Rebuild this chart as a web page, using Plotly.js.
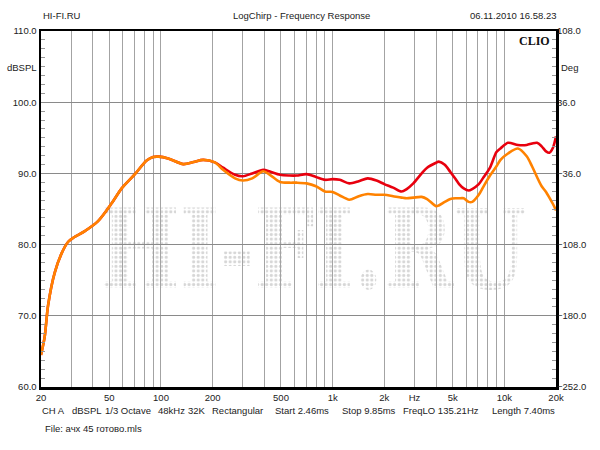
<!DOCTYPE html>
<html>
<head>
<meta charset="utf-8">
<script src="https://cdn.plot.ly/plotly-3.0.1.min.js"></script>
<style>html,body{margin:0;padding:0;background:#fff;}#chart{width:600px;height:450px;}</style>
</head>
<body>
<div id="chart"></div>
<script>
// Frequencies (Hz)
const freq = [20, 21, 22, 24, 26.4, 28.8, 31, 36, 43, 51.6, 59, 70.5, 82.5, 90, 97, 110, 135, 155, 176, 206, 230, 270, 300, 340, 394, 431, 494, 560, 617, 705, 800, 902, 1000, 1100, 1250, 1420, 1600, 1800, 2000, 2250, 2520, 2700, 2950, 3300, 3550, 4000, 4150, 4500, 4850, 5200, 5450, 5800, 6200, 6500, 7100, 7500, 8250, 9000, 9500, 10500, 12000, 13500, 14500, 15500, 16500, 17500, 18300, 19200, 20000];
// Red curve (dBSPL)
const redSPL = [64.5, 67, 71.5, 76, 78.8, 80.4, 81, 81.9, 83.3, 85.8, 87.9, 89.9, 91.8, 92.3, 92.35, 92.1, 91.3, 91.6, 91.9, 91.55, 90.8, 89.8, 89.6, 90.0, 90.5, 90.25, 89.8, 89.7, 89.7, 89.9, 89.5, 89.1, 89.2, 89.1, 88.6, 88.9, 89.3, 89.0, 88.5, 88.0, 87.45, 87.8, 88.6, 90.0, 90.8, 91.5, 91.65, 91.2, 90.2, 89.2, 88.5, 87.9, 87.6, 87.8, 88.5, 89.3, 90.8, 93.0, 93.5, 94.3, 94.0, 94.0, 94.2, 94.3, 93.8, 93.1, 92.9, 93.6, 95.2];
// Orange curve (dBSPL)
const orangeSPL = [64.5, 67, 71.5, 76, 78.8, 80.4, 81, 81.9, 83.3, 85.8, 87.9, 89.9, 91.8, 92.3, 92.35, 92.1, 91.3, 91.6, 91.9, 91.55, 90.5, 89.3, 89.0, 89.3, 90.3, 89.8, 88.8, 88.7, 88.7, 88.6, 88.2, 87.45, 87.4, 86.9, 86.3, 86.8, 87.1, 87.0, 87.0, 86.8, 86.6, 86.5, 86.6, 86.7, 86.4, 85.4, 85.5, 86.0, 86.4, 86.5, 86.5, 86.5, 86.0, 86.0, 87.0, 88.0, 89.7, 91.0, 91.9, 92.8, 93.5, 92.4, 91.0, 89.5, 88.2, 87.4, 86.6, 85.7, 84.8];

// Axis ticks
const gridFreqs = [20,30,40,50,60,70,80,90,100,200,300,400,500,600,700,800,900,1000,2000,3000,4000,5000,6000,7000,8000,9000,10000,20000];
const labeledFreqs = [20, 50, 100, 200, 500, 1000, 2000, 3000, 5000, 10000, 20000];
const labeledText = ['20', '50', '100', '200', '500', '1k', '2k', 'Hz', '5k', '10k', '20k'];
const xTickText = gridFreqs.map(f => { const i = labeledFreqs.indexOf(f); return i >= 0 ? labeledText[i] : ''; });
const leftRange = [60, 110];
const rightRange = [-252, 108];

// Footer texts
const footerItems = ['CH A', 'dBSPL', '1/3 Octave', '48kHz', '32K', 'Rectangular', 'Start 2.46ms', 'Stop 9.85ms', 'FreqLO 135.21Hz', 'Length 7.40ms'];
const footerX = [40, 70, 103, 156, 186, 210, 273, 340, 401, 490];
const fileText = 'File: ачх 45 готово.mls';

const font = "Liberation Sans, Arial, sans-serif";
const W = 600, H = 450, ML = 41, MR = 44, MT = 31, MB = 63;
const PW = W - ML - MR, PH = H - MT - MB;
const px = x => (x - ML) / PW;
const py = y => (H - MB - y) / PH;

const traces = [
  {x: freq, y: redSPL, type: 'scatter', mode: 'lines', line: {color: '#e8000e', width: 2.6, shape: 'spline', smoothing: 0.8}, hoverinfo: 'skip'},
  {x: freq, y: orangeSPL, type: 'scatter', mode: 'lines', line: {color: '#ff8200', width: 2.6, shape: 'spline', smoothing: 0.8}, hoverinfo: 'skip'},
  {x: [20], y: [0], yaxis: 'y2', type: 'scatter', mode: 'markers', marker: {opacity: 0}, hoverinfo: 'skip'}
];

const wm = '<svg xmlns="http://www.w3.org/2000/svg" width="430" height="86" viewBox="0 0 430 86">' +
  '<defs><pattern id="d" width="4.6" height="4.6" patternUnits="userSpaceOnUse"><circle cx="2.3" cy="2.3" r="1.6" fill="#d6d6d6"/></pattern></defs>' +
  '<text x="0" y="84" font-family="DejaVu Serif" font-weight="bold" font-size="112" textLength="430" lengthAdjust="spacingAndGlyphs" fill="url(#d)">HI-FI.RU</text></svg>';

const txt = (text, xPx, yPx, anchor, size, extra) => Object.assign({
  text: text, xref: 'paper', yref: 'paper', x: px(xPx), y: py(yPx), xanchor: anchor, yanchor: 'middle',
  showarrow: false, font: {family: font, size: size, color: '#222'}
}, extra || {});

const annotations = [
  txt('HI-FI.RU', 41, 16, 'left', 9.5),
  txt('LogChirp - Frequency Response', 301, 16, 'center', 9.5),
  txt('06.11.2010 16.58.23', 558, 16, 'right', 9.5),
  txt('<b>CLIO</b>', 552, 41, 'right', 12, {font: {family: 'Liberation Serif, Times New Roman, serif', size: 12, color: '#111'}}),
  txt('dBSPL', 39, 67, 'right', 9.5),
  txt('Deg', 559, 67, 'left', 9.5),
  txt(fileText, 43, 428, 'left', 9.5)
];
footerItems.forEach((t, i) => annotations.push(txt(t, footerX[i], 410, 'left', 9.5)));

const layout = {
  width: W, height: H,
  margin: {l: ML, r: MR, t: MT, b: MB},
  paper_bgcolor: '#fff', plot_bgcolor: '#fff',
  showlegend: false,
  font: {family: font, size: 9.5, color: '#222'},
  xaxis: {
    type: 'log', range: [Math.log10(20), Math.log10(20000)],
    tickvals: gridFreqs, ticktext: xTickText, ticks: '',
    showgrid: true, gridcolor: '#a3a3a3', gridwidth: 1,
    showline: true, linecolor: '#000', linewidth: 2.5, mirror: true,
    zeroline: false, tickfont: {family: font, size: 9.5, color: '#222'}, fixedrange: true
  },
  yaxis: {
    range: leftRange, dtick: 10, tick0: 60, tickformat: '.1f',
    showgrid: true, gridcolor: '#8a8a8a', gridwidth: 1,
    showline: true, linecolor: '#000', linewidth: 2.5, mirror: true,
    ticks: '', zeroline: false,
    minor: {dtick: 1.25, ticks: 'inside', ticklen: 4, tickcolor: '#999', tickwidth: 1, showgrid: false},
    tickfont: {family: font, size: 9.5, color: '#222'}, fixedrange: true
  },
  yaxis2: {
    overlaying: 'y', side: 'right', range: rightRange, dtick: 72, tick0: -252, tickformat: '.1f',
    showgrid: false, zeroline: false, ticks: '', showline: false,
    minor: {dtick: 9, ticks: 'inside', ticklen: 4, tickcolor: '#999', tickwidth: 1, showgrid: false},
    tickfont: {family: font, size: 9.5, color: '#222'}, fixedrange: true
  },
  images: [{
    source: 'data:image/svg+xml;charset=utf-8,' + encodeURIComponent(wm),
    xref: 'paper', yref: 'paper', x: px(100), y: py(205), sizex: (527 - 100) / PW, sizey: 85 / PH,
    sizing: 'stretch', xanchor: 'left', yanchor: 'top', layer: 'below', opacity: 1
  }],
  annotations: annotations
};

Plotly.newPlot('chart', traces, layout, {staticPlot: true, displayModeBar: false});
</script>
</body>
</html>
